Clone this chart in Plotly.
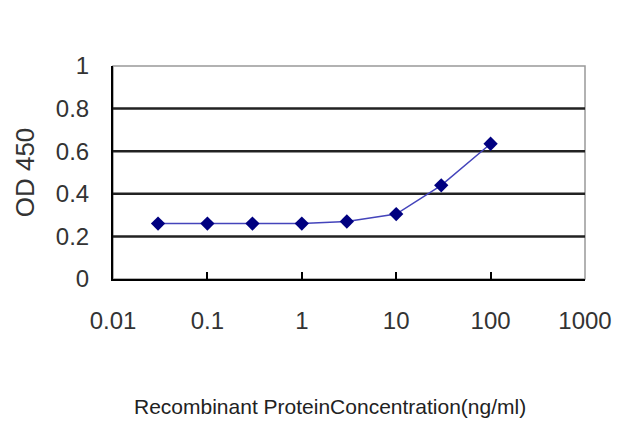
import plotly.graph_objects as go

# concentrations (ng/ml) and OD readings
conc = [0.03, 0.1, 0.3, 1, 3, 10, 30, 100]
od450 = [0.26, 0.26, 0.26, 0.26, 0.27, 0.305, 0.44, 0.635]

x_ticks = [0.01, 0.1, 1, 10, 100, 1000]
x_tick_text = ["0.01", "0.1", "1", "10", "100", "1000"]
y_ticks = [0, 0.2, 0.4, 0.6, 0.8, 1]
y_tick_text = ["0", "0.2", "0.4", "0.6", "0.8", "1"]

font = "Liberation Sans, Arial, sans-serif"

fig = go.Figure()
fig.add_trace(go.Scatter(
    x=conc, y=od450, mode="lines+markers",
    line=dict(color="#4444bb", width=1.5),
    marker=dict(symbol="diamond", size=11, color="#000080"),
    showlegend=False,
))

fig.update_xaxes(
    type="log", range=[-2, 3],
    tickvals=x_ticks, ticktext=x_tick_text,
    ticks="inside", ticklen=7, tickwidth=1.5, tickcolor="black",
    showgrid=False, zeroline=False,
    showline=True, linecolor="black", linewidth=2,
    ticklabelstandoff=19,
    tickfont=dict(family=font, size=24, color="#333333"),
)
fig.update_yaxes(
    range=[0, 1],
    tickvals=y_ticks, ticktext=y_tick_text,
    ticks="", showgrid=False, zeroline=False,
    showline=True, linecolor="black", linewidth=2,
    ticklabelstandoff=17,
    tickfont=dict(family=font, size=24, color="#333333"),
    title=dict(text="OD 450", font=dict(family=font, size=26, color="#333333"), standoff=14),
    automargin=False,
)

# gray outer frame, black horizontal grid lines
fig.add_shape(type="rect", xref="paper", yref="paper", x0=0, x1=1, y0=0, y1=1,
              line=dict(color="#999999", width=1.5), layer="below")
for v in y_ticks[1:-1]:
    fig.add_shape(type="line", xref="paper", yref="y", x0=0, x1=1, y0=v, y1=v,
                  line=dict(color="#222222", width=2.5), layer="below")

fig.add_annotation(
    text="Recombinant ProteinConcentration(ng/ml)",
    xref="paper", yref="paper", x=0.46, y=-0.66, showarrow=False,
    font=dict(family=font, size=21, color="#222222"),
)

fig.update_layout(
    width=640, height=427,
    margin=dict(l=105, r=63, t=58, b=156),
    plot_bgcolor="white", paper_bgcolor="white",
)

fig.write_html("out.html")
